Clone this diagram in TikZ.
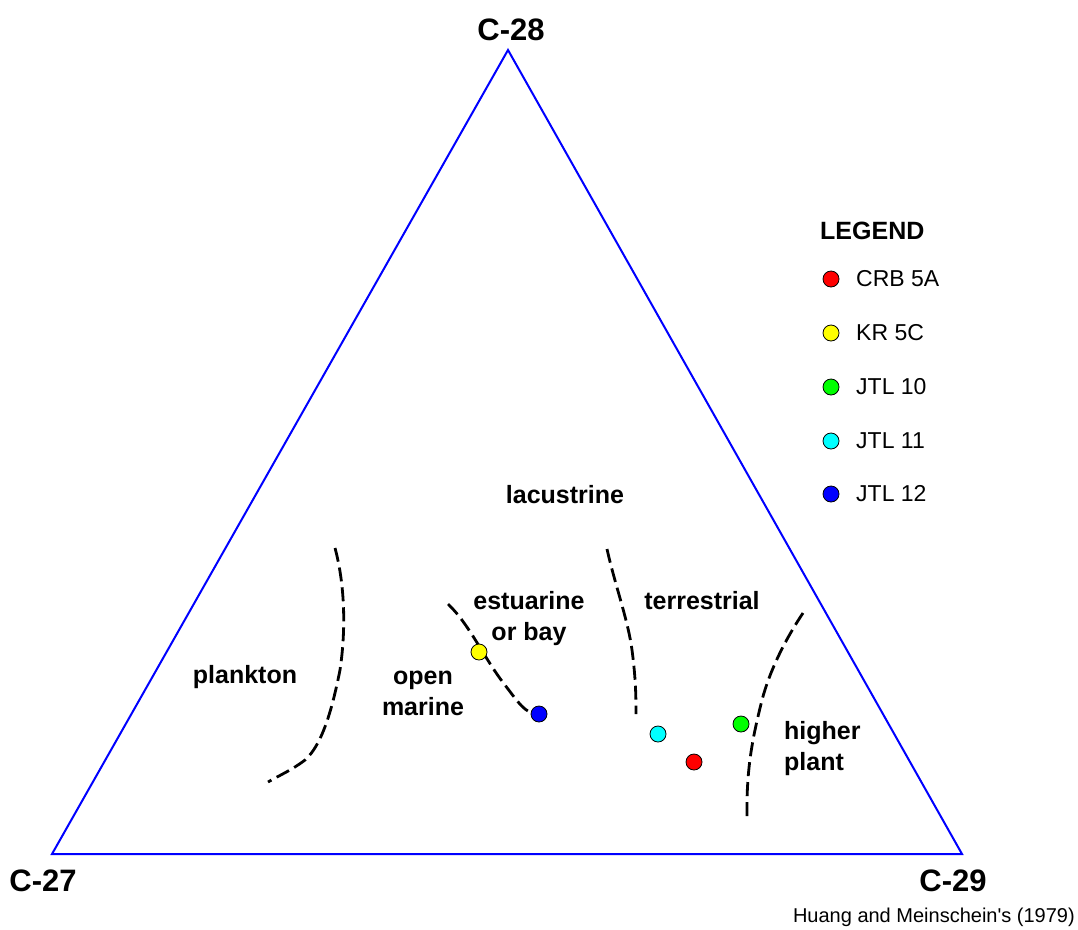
\documentclass[tikz,border=0pt]{standalone}
\usepackage{fontspec}
\setmainfont{Liberation Sans}
\newfontfamily\plainfont{Liberation Sans}
\definecolor{ptred}{RGB}{255,0,0}
\definecolor{ptyellow}{RGB}{255,255,0}
\definecolor{ptgreen}{RGB}{0,255,0}
\definecolor{ptcyan}{RGB}{0,255,255}
\definecolor{ptblue}{RGB}{0,0,255}
\begin{document}
\begin{tikzpicture}[x=1pt,y=-1pt,
  corner/.style={font=\fontsize{31}{34}\selectfont\bfseries,inner sep=0pt},
  region/.style={font=\fontsize{25}{31}\selectfont\bfseries,inner sep=0pt,align=center},
  legtext/.style={font=\fontsize{23}{26}\selectfont,inner sep=0pt,anchor=west},
  sample/.style={circle,draw=black,line width=0.8pt,minimum size=16pt,inner sep=0pt},
  boundary/.style={black,line width=2.8pt,dash pattern=on 14pt off 6pt},
  side/.style={ptblue,line width=2pt}]
\useasboundingbox (0,0) rectangle (1078,929);
% triangle
\coordinate (T) at (508,50);
\coordinate (L) at (52,854);
\coordinate (R) at (962,854);
\draw[side] (T) -- (L) -- (R) -- cycle;
\node[corner] (c28) at (511,30) {C-28};
\node[corner] (c27) at (43,881) {C-27};
\node[corner] (c29) at (953,881) {C-29};
% boundaries
\draw[boundary] (335,548) .. controls (345,585) and (346,630) .. (340,670)
  .. controls (332,710) and (322,745) .. (305,760) .. controls (292,770) and (280,775) .. (268,782);
\draw[boundary] (448,604) .. controls (470,625) and (485,660) .. (505,685)
  .. controls (520,705) and (525,712) .. (536,714);
\draw[boundary] (607,549) .. controls (615,585) and (628,620) .. (632,650)
  .. controls (636,680) and (636,700) .. (636,714);
\draw[boundary] (803,613) .. controls (785,640) and (770,670) .. (762,700)
  .. controls (752,740) and (746,770) .. (747,822);
% region labels
\node[region] (lac) at (565,495) {lacustrine};
\node[region] (est) at (529,619) {estuarine\\or bay};
\node[region] (ter) at (702,601) {terrestrial};
\node[region] (pla) at (245,677) {plankton};
\node[region] (ope) at (423,693) {open\\marine};
\node[region,align=left,anchor=west] (hig) at (784,749) {higher\\plant};
% samples
\node[sample,fill=ptyellow] (kr) at (479,652) {};
\node[sample,fill=ptblue] (j12) at (539,714) {};
\node[sample,fill=ptcyan] (j11) at (658,734) {};
\node[sample,fill=ptred] (crb) at (694,762) {};
\node[sample,fill=ptgreen] (j10) at (741,724) {};
% legend
\node[font=\fontsize{25}{27}\selectfont\bfseries,inner sep=0pt,anchor=west] (leg) at (820,231) {LEGEND};
\node[sample,fill=ptred] (l1) at (831,279) {};
\node[legtext] (t1) at (856,279) {CRB 5A};
\node[sample,fill=ptyellow] (l2) at (831,333) {};
\node[legtext] (t2) at (856,333) {KR 5C};
\node[sample,fill=ptgreen] (l3) at (831,387) {};
\node[legtext] (t3) at (856,387) {JTL 10};
\node[sample,fill=ptcyan] (l4) at (831,441) {};
\node[legtext] (t4) at (856,441) {JTL 11};
\node[sample,fill=ptblue] (l5) at (831,494) {};
\node[legtext] (t5) at (856,494) {JTL 12};
\node[font=\plainfont\fontsize{20}{22}\selectfont,inner sep=0pt,anchor=east] (src) at (1075,917) {Huang and Meinschein's (1979)};
\end{tikzpicture}
\end{document}
